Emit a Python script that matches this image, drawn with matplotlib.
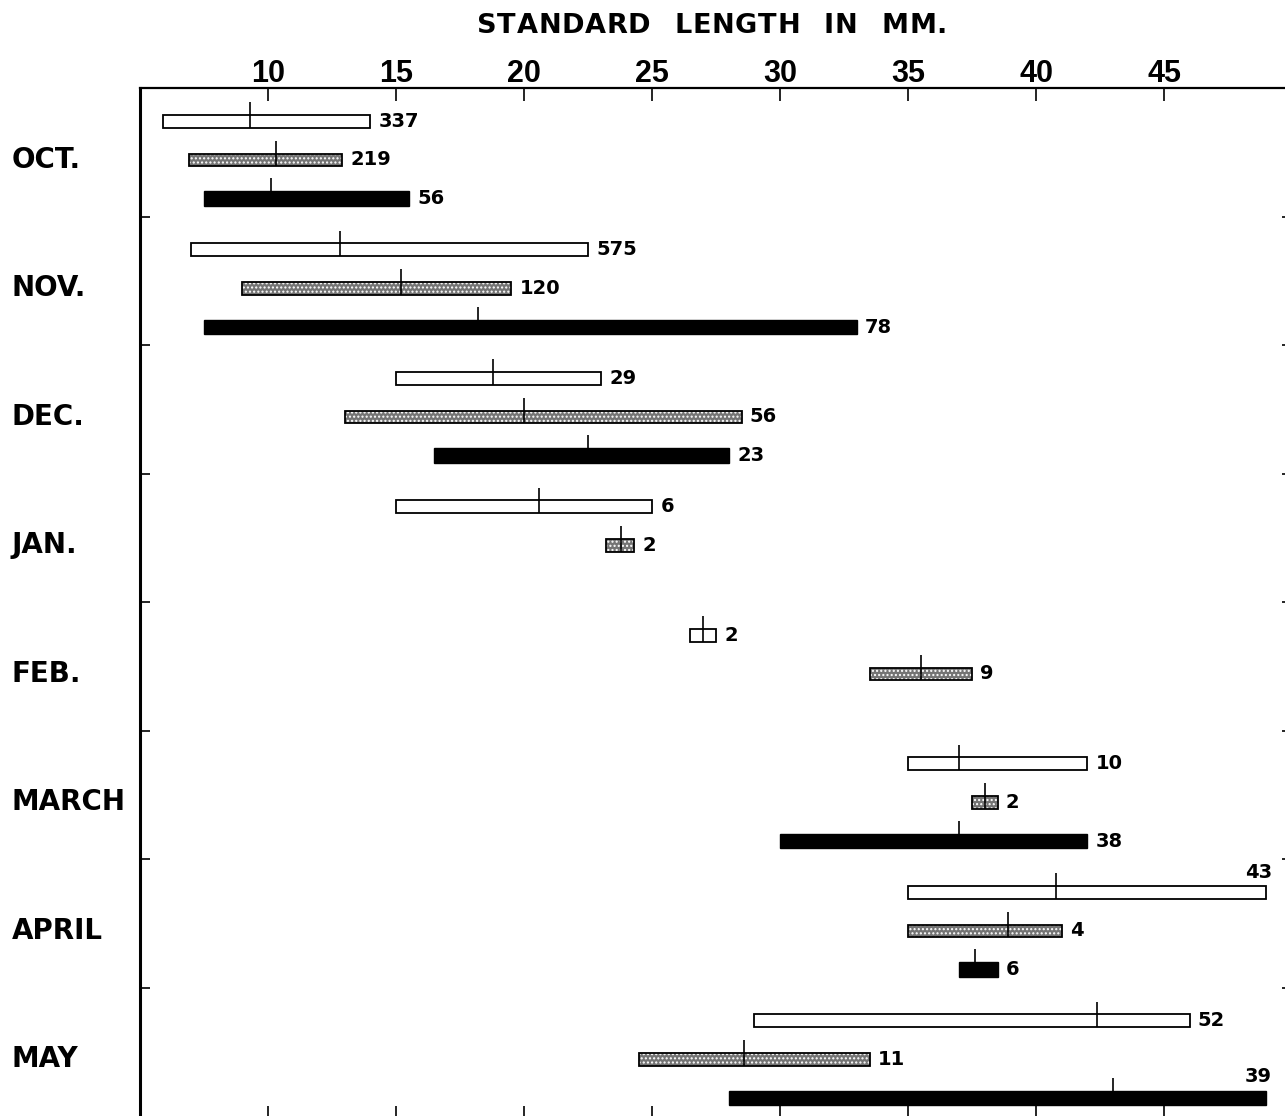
import matplotlib
matplotlib.use("Agg")
import matplotlib.pyplot as plt
import matplotlib.transforms as mtransforms

# Monthly standard-length ranges (mm): min, max, mean and sample size
months = ["OCT.", "NOV.", "DEC.", "JAN.", "FEB.", "MARCH", "APRIL", "MAY"]

open_min = [5.9, 7.0, 15.0, 15.0, 26.5, 35.0, 35.0, 29.0]
open_max = [14.0, 22.5, 23.0, 25.0, 27.5, 42.0, 49.0, 46.0]
open_mean = [9.3, 12.8, 18.8, 20.6, 27.0, 37.0, 40.8, 42.4]
open_n = [337, 575, 29, 6, 2, 10, 43, 52]

stip_min = [6.9, 9.0, 13.0, 23.2, 33.5, 37.5, 35.0, 24.5]
stip_max = [12.9, 19.5, 28.5, 24.3, 37.5, 38.5, 41.0, 33.5]
stip_mean = [10.3, 15.2, 20.0, 23.8, 35.5, 38.0, 38.9, 28.6]
stip_n = [219, 120, 56, 2, 9, 2, 4, 11]

solid_min = [7.5, 7.5, 16.5, None, None, 30.0, 37.0, 28.0]
solid_max = [15.5, 33.0, 28.0, None, None, 42.0, 38.5, 49.0]
solid_mean = [10.1, 18.2, 22.5, None, None, 37.0, 37.6, 43.0]
solid_n = [56, 78, 23, None, None, 38, 6, 39]

x_ticks = [10, 15, 20, 25, 30, 35, 40, 45]
title = "STANDARD LENGTH IN MM."

plt.rcParams["font.family"] = ["DejaVu Sans"]
plt.rcParams["hatch.linewidth"] = 1.0

W, H = 1285, 1116
fig = plt.figure(figsize=(W / 100, H / 100), dpi=100)
ax = fig.add_axes([140 / W, -2 / H, 1152 / W, (1028 + 2) / H])

ax.set_xlim(5, 50)
ax.set_ylim(8.0 + 2 / 128.5, 0)

row_offsets = [0.26, 0.56, 0.86]
tick_rise = 0.10
count_font = dict(fontsize=14, fontweight="bold", family="DejaVu Sans")


def draw_series(mins, maxs, means, ns, row, style):
    for i in range(len(months)):
        lo, hi, mu, n = mins[i], maxs[i], means[i], ns[i]
        if lo is None:
            continue
        y = i + row_offsets[row]
        if style == "open":
            h = 0.10
            ax.barh(y, hi - lo, left=lo, height=h, facecolor="white",
                    edgecolor="black", linewidth=1.3, zorder=3)
        elif style == "stipple":
            h = 0.10
            ax.barh(y, hi - lo, left=lo, height=h, facecolor="#747474",
                    edgecolor="white", hatch="....", linewidth=0, zorder=3)
            ax.barh(y, hi - lo, left=lo, height=h, fill=False,
                    edgecolor="black", linewidth=1.3, zorder=4)
        else:
            h = 0.115
            ax.barh(y, hi - lo, left=lo, height=h, facecolor="black",
                    edgecolor="black", linewidth=1.0, zorder=3)
        # mean marker
        ax.plot([mu, mu], [y + h / 2, y - h / 2 - tick_rise], color="black",
                linewidth=1.2, zorder=5, solid_capstyle="butt")
        # sample size
        if hi >= 48.5:
            ax.annotate(str(n), xy=(hi, y - h / 2), xytext=(4, 3),
                        textcoords="offset points", ha="right", va="bottom",
                        zorder=6, annotation_clip=False, **count_font)
        else:
            ax.annotate(str(n), xy=(hi, y), xytext=(6, 0),
                        textcoords="offset points", ha="left", va="center",
                        zorder=6, **count_font)


draw_series(open_min, open_max, open_mean, open_n, 0, "open")
draw_series(stip_min, stip_max, stip_mean, stip_n, 1, "stipple")
draw_series(solid_min, solid_max, solid_mean, solid_n, 2, "solid")

# axes frame
for side in ["right", "bottom"]:
    ax.spines[side].set_visible(False)
ax.spines["left"].set_linewidth(2.2)
ax.spines["top"].set_linewidth(1.6)

ax.set_xticks(x_ticks)
ax.set_xticklabels([str(t) for t in x_ticks])
ax.tick_params(axis="x", which="both", direction="in", top=True, bottom=True,
               labeltop=True, labelbottom=False, length=9, width=1.2, pad=-1,
               labelsize=22)
for lab in ax.get_xticklabels():
    lab.set_fontweight("bold")
    lab.set_family("Liberation Sans")

ax.set_yticks(list(range(1, len(months))))
ax.set_yticklabels([])
ax.tick_params(axis="y", direction="in", left=True, right=True, length=7,
               width=1.2)

# month names
trans = mtransforms.blended_transform_factory(fig.transFigure, ax.transData)
for i, m in enumerate(months):
    ax.text(12 / W, i + row_offsets[1], m, transform=trans, ha="left",
            va="center", fontsize=20, fontweight="bold", clip_on=False)


def tracked_text(s, x_left, x_right, y_center, word_gap, **kw):
    """Draw s letter by letter between x_left and x_right (figure pixels)."""
    renderer = fig.canvas.get_renderer()
    widths = []
    for ch in s:
        if ch == " ":
            widths.append(None)
            continue
        t = fig.text(0, 0, ch, **kw)
        widths.append(t.get_window_extent(renderer).width)
        t.remove()
    ink = sum(w for w in widths if w is not None)
    n_words_gaps = s.count(" ")
    n_letter_gaps = len(s) - 1 - 2 * n_words_gaps
    gap = (x_right - x_left - ink - n_words_gaps * word_gap) / n_letter_gaps
    x = x_left
    prev_space = False
    for ch, w in zip(s, widths):
        if w is None:
            x += word_gap - gap
            prev_space = True
            continue
        fig.text(x / W, 1 - y_center / H, ch, ha="left", va="center", **kw)
        x += w + gap
        prev_space = False


tracked_text(title, 477, 947, 26, 24, fontsize=19.5, fontweight="bold",
             family="DejaVu Sans")

fig.savefig("out.png", dpi=100)
